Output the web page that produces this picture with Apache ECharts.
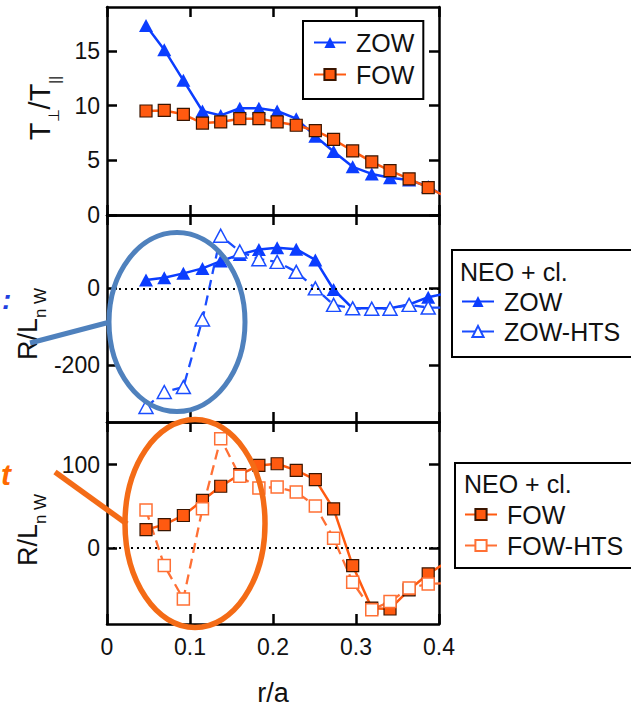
<!DOCTYPE html>
<html><head><meta charset="utf-8">
<script src="https://cdn.jsdelivr.net/npm/echarts@6/dist/echarts.min.js"></script>
<style>html,body{margin:0;padding:0;background:#fff}#c{width:631px;height:707px}</style>
</head><body><div id="c"></div>
<script>
// ---- data ----
const rA = [0.047,0.069,0.092,0.115,0.137,0.160,0.183,0.205,0.228,0.251,0.273,0.296,0.319,0.341,0.364,0.387,0.409];
const anisZOW = [17.3,15.1,12.3,9.5,9.1,9.75,9.75,9.5,8.8,7.2,5.8,4.4,3.75,3.4,3.2,2.6,1.6];
const anisFOW = [9.5,9.55,9.2,8.4,8.5,8.8,8.8,8.5,8.2,7.7,6.9,5.85,4.85,4.05,3.3,2.5,1.65];
const gradZOW = [21.6,27.7,39,52,71,88,101,106,102,74,-3,-52,-52,-52,-42,-23,-13];
const gradZOWHTS = [-309,-270,-257,-81,137,96,76,69,43,0,-43,-52,-53,-53,-43,-50,-50];
const gradFOW = [22,28,39,57,74,88,99,101,93,82,47,-21,-72,-73,-50,-31,-17];
const gradFOWHTS = [45.5,-21,-61,47,131,86,72,73,67,50.5,11.7,-41,-74,-64,-48,-43,-42];
const anisTicks = [0,5,10,15];
const gradZTicks = [-200,0];
const gradFTicks = [0,100];

const FF = '"Liberation Sans", Arial, Helvetica, sans-serif';
const BLUE = '#0b3dff', BLUE2 = '#1a4dff', ORANGE = '#ff5a10', ORANGE2 = '#ff7035';
const pts = a => rA.map((x,i)=>[x,a[i]]);

const grids = [
  {left:107, right:192, top:7, height:208},
  {left:107, right:192, top:215, height:207},
  {left:107, right:192, top:422, height:208}
];
const axLine = {show:true, onZero:false, lineStyle:{color:'#000', width:2.5}};
function xAx(g, pos, labels, extra){
  return Object.assign({type:'value', gridIndex:g, position:pos, min:0, max:0.4, interval:0.1,
    axisLine:axLine,
    axisTick:{show:true, inside:true, length:10, lineStyle:{color:'#000', width:2.5}},
    axisLabel:{show:labels, fontSize:23, fontFamily:FF, color:'#111', margin:11,
      formatter:v=> v===0 ? '0' : v.toFixed(1)},
    splitLine:{show:false}}, extra||{});
}
function yAx(g, pos, min, max, ticks, labels){
  return {type:'value', gridIndex:g, position:pos, min:min, max:max,
    axisLine:axLine,
    axisTick:{show:true, inside:true, length:10, customValues:ticks, lineStyle:{color:'#000', width:2.5}},
    axisLabel:{show:labels, customValues:ticks, fontSize:23, fontFamily:FF, color:'#111', margin:7},
    splitLine:{show:false}};
}
const xAxis = [
  xAx(0,'bottom',false), xAx(0,'top',false),
  xAx(1,'bottom',false), xAx(1,'top',false),
  xAx(2,'bottom',true,{name:'r/a', nameLocation:'middle', nameGap:55, nameTextStyle:{fontSize:27, fontFamily:FF, color:'#111'}}),
  xAx(2,'top',false)
];
const yAxis = [
  yAx(0,'left',0,19,anisTicks,true), yAx(0,'right',0,19,anisTicks,false),
  yAx(1,'left',-348,191,gradZTicks,true), yAx(1,'right',-348,191,gradZTicks,false),
  yAx(2,'left',-91,151,gradFTicks,true), yAx(2,'right',-91,151,gradFTicks,false)
];
const zeroLine = {silent:true, symbol:['none','none'], label:{show:false},
  lineStyle:{color:'#000', type:[2,4], width:2}, data:[{yAxis:0}], animation:false};

const triFull = {symbol:'triangle', symbolSize:[14,13], itemStyle:{color:BLUE}, lineStyle:{color:BLUE, width:2.5}};
const triOpen = {symbol:'triangle', symbolSize:[14,13], itemStyle:{color:'#fff', borderColor:BLUE2, borderWidth:1.5}, lineStyle:{color:BLUE2, width:2.3, type:[10,6]}};
const sqFull = {symbol:'rect', symbolSize:12, itemStyle:{color:ORANGE, borderColor:'#3a1500', borderWidth:1.2}, lineStyle:{color:ORANGE, width:2.5}};
const sqOpen = {symbol:'rect', symbolSize:12, itemStyle:{color:'#fff', borderColor:ORANGE2, borderWidth:1.5}, lineStyle:{color:ORANGE2, width:2.3, type:[10,6]}};
function ser(name, g, data, st, extra){
  return Object.assign({type:'line', name:name, xAxisIndex:2*g, yAxisIndex:2*g, data:pts(data),
    showAllSymbol:true, clip:true, animation:false, z:3}, st, extra||{});
}
const series = [
  ser('ZOW',0,anisZOW,triFull),
  ser('FOW',0,anisFOW,sqFull),
  ser('ZOW',1,gradZOW,triFull,{markLine:zeroLine}),
  ser('ZOW-HTS',1,gradZOWHTS,triOpen),
  ser('FOW',2,gradFOW,sqFull,{markLine:zeroLine}),
  ser('FOW-HTS',2,gradFOWHTS,sqOpen)
];

const legTS = {fontSize:25, fontFamily:FF, color:'#111', padding:[0,0,0,5]};
const legBase = {orient:'vertical', itemWidth:32, itemHeight:14, selectedMode:false, textStyle:legTS,
  lineStyle:{type:'solid'}};
const legend = [
  Object.assign({data:['ZOW','FOW'], left:303, top:21, padding:[9,9,12,10], itemGap:7, borderColor:'#000', borderWidth:2}, legBase),
  Object.assign({data:['ZOW','ZOW-HTS'], left:461, top:289, padding:0, itemGap:5}, legBase),
  Object.assign({data:['FOW','FOW-HTS'], left:464, top:502, padding:0, itemGap:6}, legBase)
];

// axis titles with subscripts
const ctx = document.createElement('canvas').getContext('2d');
function tw(t,s){ ctx.font = s+'px '+FF; return ctx.measureText(t).width; }
function vTitle(cx, cy, parts){
  const W = parts.reduce((a,p)=>a+tw(p.t,p.s),0);
  let x = -W/2; const children = [];
  parts.forEach(p=>{
    children.push({type:'text', x:x, y:p.dy, style:{text:p.t, font:p.s+'px '+FF, fill:'#111',
      align:'left', verticalAlign:'middle', textAlign:'left', textVerticalAlign:'middle'}});
    x += tw(p.t,p.s);
  });
  return {type:'group', x:cx, y:cy, rotation:Math.PI/2, children:children};
}
function txt(x,y,t,font,fill,align){
  return {type:'text', x:x, y:y, z:50, style:{text:t, font:font, fill:fill, align:align||'left', verticalAlign:'middle', textAlign:align||'left', textVerticalAlign:'middle'}};
}
const graphic = [
  vTitle(40,108,[{t:'T',s:29,dy:0},{t:'\u22A5',s:15,dy:13},{t:'/T',s:29,dy:0},{t:'||',s:15,dy:14}]),
  vTitle(28,324,[{t:'R/L',s:27,dy:0},{t:'n W',s:17,dy:12}]),
  vTitle(28,530,[{t:'R/L',s:27,dy:0},{t:'n W',s:17,dy:12}]),
  {type:'rect', z:40, shape:{x:452, y:250, width:200, height:107}, style:{fill:null, stroke:'#000', lineWidth:2}},
  {type:'rect', z:40, shape:{x:455, y:463, width:200, height:105}, style:{fill:null, stroke:'#000', lineWidth:2}},
  txt(460,272,'NEO + cl.','25px '+FF,'#111'),
  txt(464,484,'NEO + cl.','25px '+FF,'#111'),
  {type:'ellipse', z:60, shape:{cx:177, cy:322, rx:68, ry:89.5}, style:{fill:null, stroke:'#4f81bd', lineWidth:5}},
  {type:'line', z:60, shape:{x1:30, y1:343, x2:110, y2:322}, style:{stroke:'#4f81bd', lineWidth:5}},
  {type:'ellipse', z:60, shape:{cx:195, cy:523.5, rx:70, ry:104}, style:{fill:null, stroke:'#f46b16', lineWidth:5.5}},
  {type:'line', z:60, shape:{x1:55, y1:472, x2:127, y2:524}, style:{stroke:'#f46b16', lineWidth:5.5}},
  txt(2,299,':','bold italic 28px '+FF,'#1f3fe0'),
  txt(1,474,'t','bold italic 30px '+FF,'#ff6a00')
];

const chart = echarts.init(document.getElementById('c'), null, {renderer:'svg'});
chart.setOption({animation:false, backgroundColor:'#fff', grid:grids, xAxis:xAxis, yAxis:yAxis, series:series, legend:legend, graphic:graphic});
</script></body></html>
